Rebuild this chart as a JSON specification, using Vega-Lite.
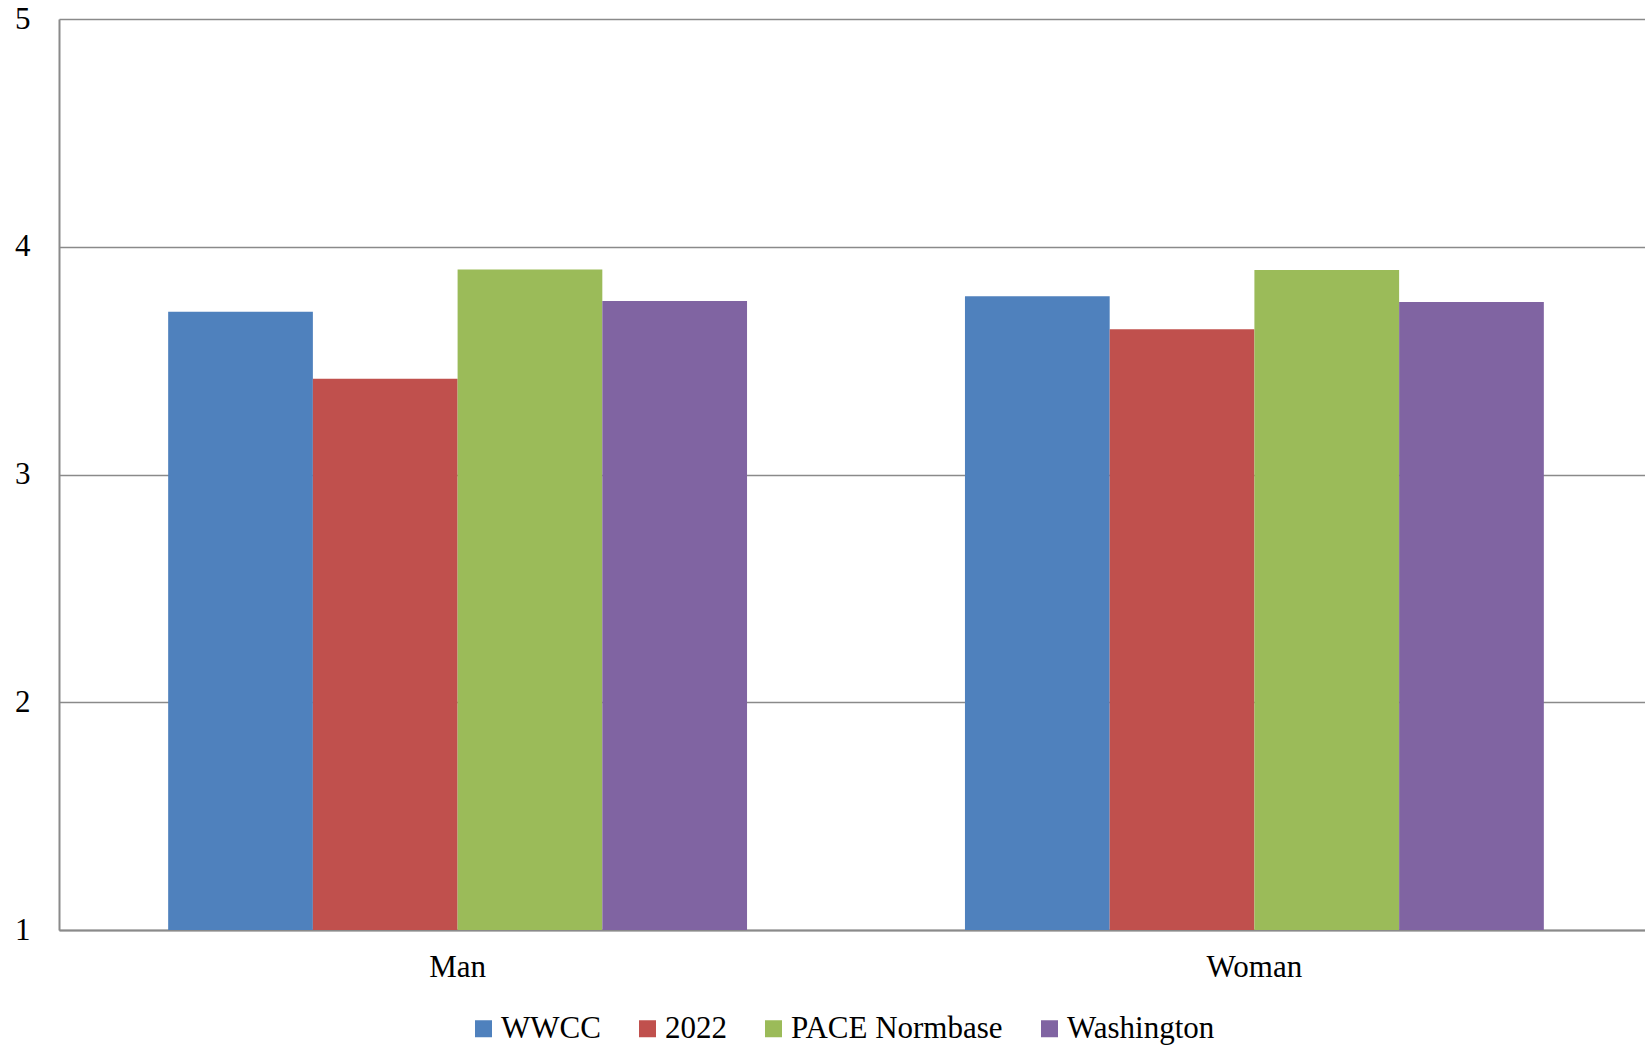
{
  "$schema": "https://vega.github.io/schema/vega-lite/v6.json",
  "width": 1586,
  "height": 911,
  "autosize": "none",
  "padding": {"left": 59, "top": 19, "right": 0, "bottom": 118},
  "background": "white",
  "config": {"view": {"stroke": null}, "font": "Liberation Serif"},
  "data": {
    "values": [
      {"gender": "Man", "series": "WWCC", "value": 3.715},
      {"gender": "Man", "series": "2022", "value": 3.42},
      {"gender": "Man", "series": "PACE Normbase", "value": 3.9},
      {"gender": "Man", "series": "Washington", "value": 3.762},
      {"gender": "Woman", "series": "WWCC", "value": 3.783},
      {"gender": "Woman", "series": "2022", "value": 3.638},
      {"gender": "Woman", "series": "PACE Normbase", "value": 3.898},
      {"gender": "Woman", "series": "Washington", "value": 3.757}
    ]
  },
  "mark": {"type": "bar"},
  "encoding": {
    "x": {
      "field": "gender",
      "type": "nominal",
      "sort": ["Man", "Woman"],
      "scale": {"paddingInner": 0.2735, "paddingOuter": 0.137, "range": [0, 1594]},
      "axis": {
        "title": null,
        "labelAngle": 0,
        "labelFont": "Liberation Serif",
        "labelFontSize": 31,
        "labelColor": "#000",
        "ticks": false,
        "labelPadding": 22,
        "domainColor": "#8a8a8a",
        "domainWidth": 2,
        "grid": false
      }
    },
    "xOffset": {
      "field": "series",
      "sort": ["WWCC", "2022", "PACE Normbase", "Washington"],
      "scale": {"paddingInner": 0, "paddingOuter": 0}
    },
    "y": {
      "field": "value",
      "type": "quantitative",
      "scale": {"domain": [1, 5], "zero": false, "nice": false},
      "axis": {
        "title": null,
        "values": [1, 2, 3, 4, 5],
        "format": "d",
        "labelFont": "Liberation Serif",
        "labelFontSize": 31,
        "labelColor": "#000",
        "ticks": false,
        "labelPadding": 29,
        "domainColor": "#8a8a8a",
        "domainWidth": 2,
        "grid": true,
        "gridColor": "#8a8a8a",
        "gridWidth": 1.6
      }
    },
    "y2": {"datum": 1},
    "color": {
      "field": "series",
      "type": "nominal",
      "sort": ["WWCC", "2022", "PACE Normbase", "Washington"],
      "scale": {
        "domain": ["WWCC", "2022", "PACE Normbase", "Washington"],
        "range": ["#4F81BD", "#C0504D", "#9BBB59", "#8064A2"]
      },
      "legend": {
        "title": null,
        "orient": "none",
        "direction": "horizontal",
        "legendX": 409,
        "legendY": 994,
        "padding": 0,
        "symbolType": "square",
        "symbolSize": 289,
        "symbolStrokeWidth": 0,
        "labelFont": "Liberation Serif",
        "labelFontSize": 31,
        "labelColor": "#000",
        "labelOffset": 2,
        "columnPadding": 31,
        "labelLimit": 400
      }
    }
  }
}
